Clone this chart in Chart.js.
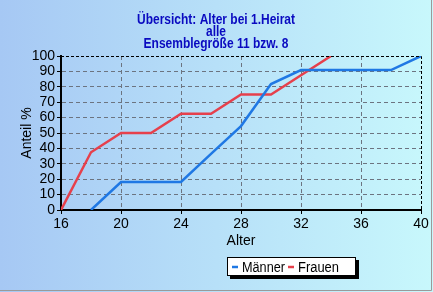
<!DOCTYPE html>
<html>
<head>
<meta charset="utf-8">
<script src="https://cdn.jsdelivr.net/npm/chart.js@4"></script>
<style>
    html, body { margin: 0; padding: 0; }
    #chart-wrap { width: 433px; height: 292px; }
</style>
</head>
<body>
<div id="chart-wrap"><canvas id="chart-heirat"></canvas></div>
<script>
const alter = [16, 18, 20, 22, 24, 26, 28, 30, 32, 34, 36, 38, 40];
const maenner = [null, 0, 18.2, 18.2, 18.2, 36.4, 54.5, 81.8, 90.9, 90.9, 90.9, 90.9, 100];
const frauen = [0, 37.5, 50, 50, 62.5, 62.5, 75, 75, 87.5, 100, null, null, null];
const titelZeilen = ["Übersicht: Alter bei 1.Heirat", "alle", "Ensemblegröße 11 bzw. 8"];

const couleurMaenner = "#1f78e4";
const couleurFrauen = "#e6404c";
const police = "'Liberation Sans', Arial, sans-serif";

function points(valeurs) {
    return alter.map((a, i) => ({ x: a, y: valeurs[i] }));
}

// fond en dégradé + titre + bordure
const fondPlugin = {
    id: "fond",
    beforeDraw(chart) {
        const { ctx, width, height } = chart;
        const grad = ctx.createLinearGradient(0, 0, width, 0);
        grad.addColorStop(0, "#a6c8f4");
        grad.addColorStop(1, "#c8f8fc");
        ctx.save();
        ctx.fillStyle = grad;
        ctx.fillRect(0, 0, width, height);
        ctx.strokeStyle = "#9a9a9a";
        ctx.lineWidth = 1;
        ctx.beginPath();
        ctx.moveTo(431.5, 0);
        ctx.lineTo(431.5, 290.5);
        ctx.lineTo(0, 290.5);
        ctx.stroke();

        // titre un peu resserré comme l'original
        ctx.fillStyle = "#0a0ac0";
        ctx.font = "bold 14px " + police;
        ctx.textAlign = "center";
        ctx.textBaseline = "alphabetic";
        const facteur = 158 / ctx.measureText(titelZeilen[0]).width;
        const lignesY = [23.5, 36, 48];
        titelZeilen.forEach((t, i) => {
            ctx.save();
            ctx.translate(216, lignesY[i]);
            ctx.scale(facteur, 1);
            ctx.fillText(t, 0, 0);
            ctx.restore();
        });
        ctx.restore();
    },
    afterDraw(chart) {
        const { ctx } = chart;
        const a = chart.chartArea;
        ctx.save();
        // bordure pointillée haut/droite
        ctx.strokeStyle = "#000";
        ctx.lineWidth = 1;
        ctx.setLineDash([3, 2]);
        ctx.beginPath();
        ctx.moveTo(a.left, a.top + 0.5);
        ctx.lineTo(a.right + 0.5, a.top + 0.5);
        ctx.lineTo(a.right + 0.5, a.bottom);
        ctx.stroke();
        ctx.setLineDash([]);

        // légende
        const bx = 227, by = 257, bw = 129, bh = 19;
        ctx.fillStyle = "#000";
        ctx.fillRect(bx + 3, by + 3, bw, bh);
        ctx.fillStyle = "#fff";
        ctx.fillRect(bx, by, bw, bh);
        ctx.strokeRect(bx + 0.5, by + 0.5, bw - 1, bh - 1);
        ctx.font = "14px " + police;
        ctx.textBaseline = "alphabetic";
        ctx.textAlign = "left";
        const positions = [232, 288];
        const largeurs = [43, 41];
        chart.data.datasets.forEach((ds, i) => {
            const x = positions[i];
            ctx.strokeStyle = ds.borderColor;
            ctx.lineWidth = 2.5;
            ctx.beginPath();
            ctx.moveTo(x, 267);
            ctx.lineTo(x + 6, 267);
            ctx.stroke();
            ctx.fillStyle = "#000";
            ctx.fillText(ds.label, x + 10, 272, largeurs[i]);
        });
        ctx.restore();
    }
};

let chartHeirat = null;

function dessinerGraphique() {
    const canvas = document.getElementById("chart-heirat");
    if (!canvas) return;

    if (chartHeirat) {
        chartHeirat.destroy();
    }

    chartHeirat = new Chart(canvas, {
        type: "line",
        data: {
            datasets: [
                {
                    label: "Männer",
                    data: points(maenner),
                    borderColor: couleurMaenner,
                    borderWidth: 2.5,
                    pointRadius: 0,
                    tension: 0,
                    spanGaps: false
                },
                {
                    label: "Frauen",
                    data: points(frauen),
                    borderColor: couleurFrauen,
                    borderWidth: 2.5,
                    pointRadius: 0,
                    tension: 0,
                    spanGaps: false
                }
            ]
        },
        options: {
            responsive: true,
            maintainAspectRatio: false,
            animation: false,
            layout: { padding: { top: 56, right: 12, left: 0, bottom: 0 } },
            plugins: {
                legend: { display: false },
                title: { display: false },
                tooltip: { enabled: false }
            },
            scales: {
                x: {
                    type: "linear",
                    min: 16,
                    max: 40,
                    afterFit: (scale) => { scale.height = 82; },
                    ticks: {
                        stepSize: 4,
                        autoSkip: false,
                        color: "#000",
                        padding: 2,
                        font: { family: police, size: 14 }
                    },
                    grid: {
                        color: (c) => (c.tick && (c.tick.value === 16 || c.tick.value === 40)) ? "rgba(0,0,0,0)" : "#6c7480",
                        lineWidth: 1,
                        tickLength: 4,
                        tickColor: "#000",
                        tickBorderDash: []
                    },
                    border: { display: true, color: "#000", width: 2, dash: [4, 3] },
                    title: {
                        display: true,
                        text: "Alter",
                        color: "#000",
                        padding: { top: 0, bottom: 42 },
                        font: { family: police, size: 14 }
                    }
                },
                y: {
                    min: 0,
                    max: 100,
                    afterFit: (scale) => { scale.width = 61; },
                    ticks: {
                        stepSize: 10,
                        autoSkip: false,
                        color: "#000",
                        padding: 2,
                        font: { family: police, size: 14 }
                    },
                    grid: {
                        color: (c) => (c.tick && (c.tick.value === 0 || c.tick.value === 100)) ? "rgba(0,0,0,0)" : "#6c7480",
                        lineWidth: 1,
                        tickLength: 4,
                        tickColor: "#000",
                        tickBorderDash: []
                    },
                    border: { display: true, color: "#000", width: 2, dash: [4, 3] },
                    title: {
                        display: true,
                        text: "Anteil %",
                        color: "#000",
                        padding: { top: 19, bottom: 0 },
                        font: { family: police, size: 14 }
                    }
                }
            }
        },
        plugins: [fondPlugin]
    });
}

dessinerGraphique();
</script>
</body>
</html>
